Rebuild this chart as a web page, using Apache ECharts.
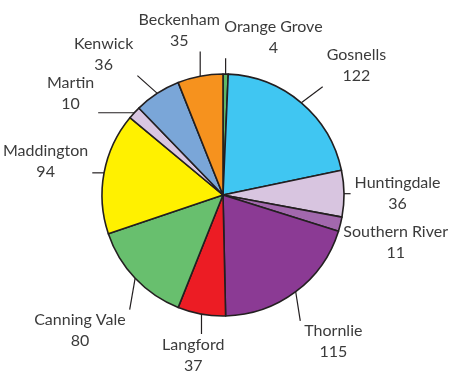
<!DOCTYPE html>
<html>
<head>
<meta charset="utf-8">
<script src="https://cdn.jsdelivr.net/npm/echarts@6/dist/echarts.min.js"></script>
<style>
  html, body { margin: 0; padding: 0; background: #fff; }
  #chart { width: 450px; height: 374px; }
</style>
</head>
<body>
<div id="chart"></div>
<script>
var suburbs = ['Orange Grove', 'Gosnells', 'Huntingdale', 'Southern River', 'Thornlie', 'Langford',
               'Canning Vale', 'Maddington', 'Martin', 'Kenwick', 'Beckenham'];
var counts = [4, 122, 36, 11, 115, 37, 80, 94, 10, 36, 35];
var colours = ['#5fb865', '#40c6f2', '#d8c5e0', '#a268ad', '#8b3a94', '#ec1c24',
               '#68bf6e', '#fff100', '#d9c6e1', '#7aa6d8', '#f6921e'];

var W = 450, H = 374;
var cx = 223, cy = 195, r = 121;
var lineH = 21, fontSize = 16, fontFamily = 'Lato';

// work out where each label sits: just off its slice, kept on the page,
// then slid sideways (along the rim) where two labels collide
var ctx = document.createElement('canvas').getContext('2d');
ctx.font = fontSize + 'px ' + fontFamily;
var total = counts.reduce(function (a, b) { return a + b; }, 0);
var acc = 0;
var mids = counts.map(function (v) {
    var m = (acc + v / 2) / total * 360;
    acc += v;
    return m;
});
var widths = suburbs.map(function (s, i) {
    return Math.max(ctx.measureText(s).width, ctx.measureText(String(counts[i])).width);
});
var base = mids.map(function (m, i) {
    var a = m * Math.PI / 180;
    var dx = Math.sin(a), dy = -Math.cos(a);
    var gap = 10 + 30 * Math.abs(dx * dy) + 8 * Math.abs(dy);
    var d = r + gap + Math.abs(dx) * widths[i] / 2 + Math.abs(dy) * 18;
    return { x: cx + d * dx, y: cy + d * dy, tx: -dy, ty: dx };
});
var shift = mids.map(function () { return 0; });

function box(i) {
    var hw = widths[i] / 2, b = base[i];
    var x = Math.min(Math.max(b.x + shift[i] * b.tx, hw + 3), W - hw - 2);
    var y = Math.min(Math.max(b.y + shift[i] * b.ty, 20), H - 19);
    return { x: x, y: y, x0: x - hw - 2, x1: x + hw + 2, y0: y - 19, y1: y + 19 };
}
function hit(a, b) {
    return a.x0 < b.x1 && b.x0 < a.x1 && a.y0 < b.y1 && b.y0 < a.y1;
}
for (var k = 0; k < 400; k++) {
    var moved = false;
    for (var i = 0; i < counts.length; i++) {
        var j = (i + 1) % counts.length;
        if (hit(box(i), box(j))) {
            shift[i] -= 1;
            shift[j] += 1;
            moved = true;
        }
    }
    if (!moved) break;
}

var chart = echarts.init(document.getElementById('chart'));
chart.setOption({
    animation: false,
    series: [{
        type: 'pie',
        center: [cx, cy],
        radius: r,
        startAngle: 90,
        clockwise: true,
        avoidLabelOverlap: false,
        data: suburbs.map(function (s, i) {
            return { name: s, value: counts[i], itemStyle: { color: colours[i] } };
        }),
        itemStyle: {
            borderColor: '#231f20',
            borderWidth: 1.6
        },
        label: {
            show: true,
            position: 'outside',
            formatter: '{b}\n{c}',
            fontFamily: fontFamily,
            fontSize: fontSize,
            lineHeight: lineH,
            color: '#3b3b3b'
        },
        labelLine: {
            show: true,
            lineStyle: { color: '#231f20', width: 1.2 }
        },
        labelLayout: function (p) {
            var i = p.dataIndex, b = box(i), a = mids[i] * Math.PI / 180;
            var sx = cx + r * Math.sin(a), sy = cy - r * Math.cos(a);
            var ex = Math.min(Math.max(sx, b.x0 - 2), b.x1 + 2);
            var ey = Math.min(Math.max(sy, b.y0 - 2), b.y1 + 2);
            return {
                x: b.x, y: b.y, align: 'center', verticalAlign: 'middle',
                labelLinePoints: [[sx, sy], [ex, ey]]
            };
        },
        emphasis: { disabled: true }
    }]
});
</script>
</body>
</html>
